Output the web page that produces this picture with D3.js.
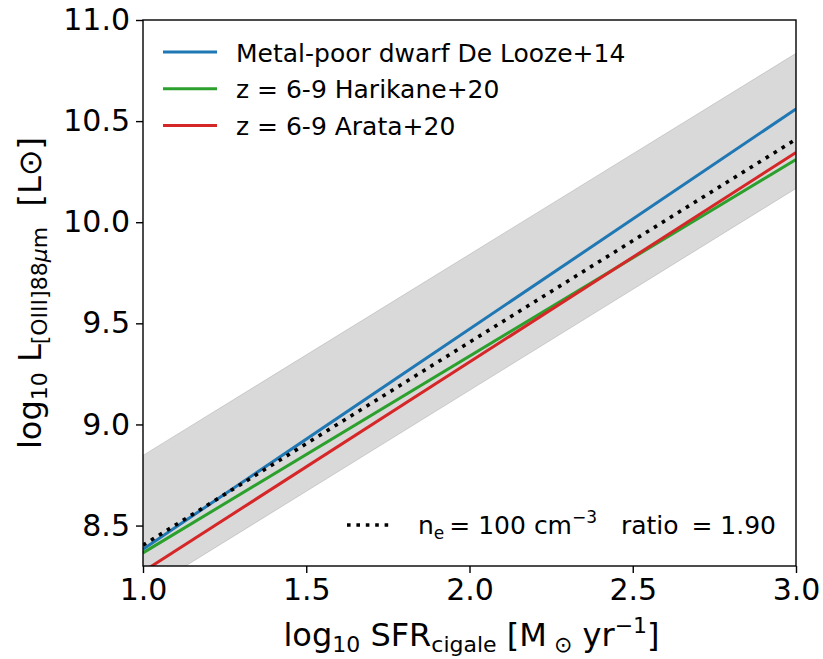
<!DOCTYPE html>
<html>
<head>
<meta charset="utf-8">
<script src="https://cdn.jsdelivr.net/npm/d3@7"></script>
<style>
  html, body { margin: 0; padding: 0; background: #fff; }
  svg { display: block; font-family: "DejaVu Sans", sans-serif; }
  text { white-space: pre; }
</style>
</head>
<body>
<svg id="chart" width="823" height="659"></svg>
<script>
// ---- data ----
const xEnds = [1.0, 3.0];
const deLooze = [8.383, 10.56];
const harikane = [8.365, 10.31];
const arata = [8.272, 10.345];
const model = [8.403, 10.41];
const bandLower = [8.17, 10.167];
const bandUpper = [8.847, 10.835];
const xTicks = [1.0, 1.5, 2.0, 2.5, 3.0];
const yTicks = [8.5, 9.0, 9.5, 10.0, 10.5, 11.0];
const legendLabels = ["Metal-poor dwarf De Looze+14", "z = 6-9 Harikane+20", "z = 6-9 Arata+20"];
const colors = ["#1f77b4", "#2ca02c", "#d62728"];

// ---- layout ----
const L = 143, R = 796, T = 20, B = 566;
const svg = d3.select("#chart");
const x = d3.scaleLinear().domain([1.0, 3.0]).range([L, R]);
const y = d3.scaleLinear().domain([8.3, 11.0]).range([B, T]);

svg.append("defs").append("clipPath").attr("id", "clip")
  .append("rect").attr("x", L).attr("y", T).attr("width", R - L).attr("height", B - T);

const plot = svg.append("g").attr("clip-path", "url(#clip)");

const bandData = xEnds.map((xv, i) => ({x: xv, lo: bandLower[i], hi: bandUpper[i]}));
plot.append("path")
  .datum(bandData)
  .attr("d", d3.area().x(d => x(d.x)).y0(d => y(d.lo)).y1(d => y(d.hi)))
  .attr("fill", "#808080").attr("fill-opacity", 0.3)
  .attr("stroke", "#808080").attr("stroke-opacity", 0.3).attr("stroke-width", 1);

const line = d3.line().x(d => x(d[0])).y(d => y(d[1]));
[deLooze, harikane, arata].forEach((s, i) => {
  plot.append("path")
    .datum(xEnds.map((xv, j) => [xv, s[j]]))
    .attr("d", line)
    .attr("fill", "none").attr("stroke", colors[i]).attr("stroke-width", 3);
});
plot.append("path")
  .datum(xEnds.map((xv, j) => [xv, model[j]]))
  .attr("d", line)
  .attr("fill", "none").attr("stroke", "#000").attr("stroke-width", 3.6)
  .attr("stroke-dasharray", "3.6,5.8");

// ---- axes ----
const xAxis = svg.append("g").attr("transform", `translate(0,${B})`)
  .call(d3.axisBottom(x).tickValues(xTicks).tickFormat(d3.format(".1f")).tickSize(7).tickPadding(6));
const yAxis = svg.append("g").attr("transform", `translate(${L},0)`)
  .call(d3.axisLeft(y).tickValues(yTicks).tickFormat(d3.format(".1f")).tickSize(7).tickPadding(6));
[xAxis, yAxis].forEach(a => {
  a.select(".domain").remove();
  a.selectAll("line").attr("stroke", "#000").attr("stroke-width", 1.4);
  a.selectAll("text").attr("font-size", 30).attr("fill", "#000")
    .attr("font-family", "DejaVu Sans, sans-serif");
});
xAxis.selectAll("text").attr("dy", "0.71em");

svg.append("rect").attr("x", L).attr("y", T).attr("width", R - L).attr("height", B - T)
  .attr("fill", "none").attr("stroke", "#000").attr("stroke-width", 1.4);

// ---- axis labels ----
const xl = svg.append("text").attr("x", (L + R) / 2 + 2).attr("y", 646)
  .attr("text-anchor", "middle").attr("font-size", 32).attr("fill", "#000");
xl.append("tspan").text("log");
xl.append("tspan").attr("font-size", 22).attr("dy", 6).text("10");
xl.append("tspan").attr("dy", -6).text(" SFR");
xl.append("tspan").attr("font-size", 22).attr("dy", 6).text("cigale");
xl.append("tspan").attr("dy", -6).text(" [M");
xl.append("tspan").attr("font-size", 22).attr("dy", 6).text(" \u2299");
xl.append("tspan").attr("dy", -6).text(" yr");
xl.append("tspan").attr("font-size", 22).attr("dy", -13).text("\u22121");
xl.append("tspan").attr("dy", 13).text("]");

const yl = svg.append("text").attr("transform", `translate(41,${(T + B) / 2}) rotate(-90)`)
  .attr("text-anchor", "middle").attr("font-size", 32).attr("fill", "#000");
yl.append("tspan").text("log");
yl.append("tspan").attr("font-size", 22).attr("dy", 6).text("10");
yl.append("tspan").attr("dy", -6).text(" L");
yl.append("tspan").attr("font-size", 22).attr("dy", 6).text("[OIII]88");
yl.append("tspan").attr("font-size", 22).attr("font-style", "italic").text("\u03bc");
yl.append("tspan").attr("font-size", 22).text("m");
yl.append("tspan").attr("dy", -6).text("  [L\u2299]");

// ---- legend (top-left) ----
const leg = svg.append("g");
legendLabels.forEach((lab, i) => {
  const yy = 52 + i * 36.7;
  leg.append("line").attr("x1", 163).attr("x2", 217).attr("y1", yy).attr("y2", yy)
    .attr("stroke", colors[i]).attr("stroke-width", 3);
  leg.append("text").attr("x", 236).attr("y", yy + 9.5).attr("font-size", 25)
    .attr("fill", "#000").text(lab);
});

// ---- legend (bottom-right) ----
svg.append("line").attr("x1", 347).attr("x2", 394).attr("y1", 525).attr("y2", 525)
  .attr("stroke", "#000").attr("stroke-width", 3.6).attr("stroke-dasharray", "3.6,5.8");
const bl = svg.append("text").attr("x", 418).attr("y", 534).attr("font-size", 25).attr("fill", "#000");
bl.append("tspan").text("n");
bl.append("tspan").attr("font-size", 17).attr("dy", 5).text("e");
bl.append("tspan").attr("dy", -5).text("\u2009= 100 cm");
bl.append("tspan").attr("font-size", 17).attr("dy", -11).text("\u22123");
bl.append("tspan").attr("dy", 11).text("   ratio \u2009= 1.90");
</script>
</body>
</html>
